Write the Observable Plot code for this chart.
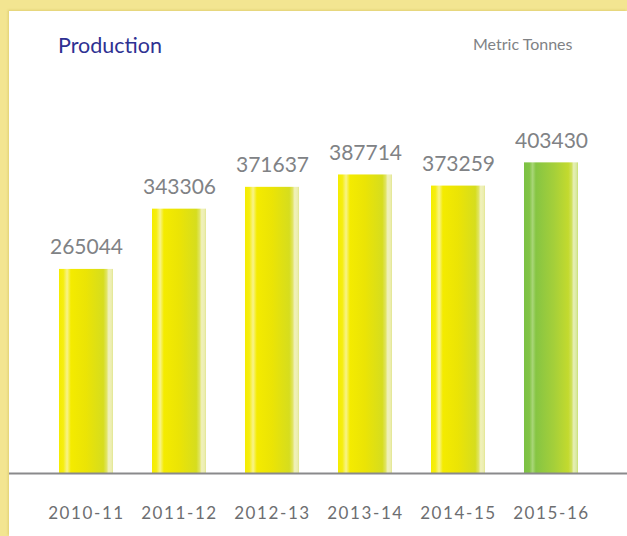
<!DOCTYPE html>
<html>
<head>
<meta charset="utf-8">
<script src="https://cdn.jsdelivr.net/npm/d3@7"></script>
<script src="https://cdn.jsdelivr.net/npm/@observablehq/plot@0.6"></script>
<style>
  body { margin: 0; background: #fff; }
  #frame { position: relative; width: 627px; height: 536px; background: #f3e591; overflow: hidden; }
  #panel { position: absolute; left: 9px; top: 11px; right: 0; bottom: 0; background: #fff;
           box-shadow: -1px -1px 2px rgba(190,170,60,0.35); }
  #title { position: absolute; left: 58px; top: 32px; font-family: Lato, sans-serif; font-size: 21.5px; color: #2e3192; }
  #unit { position: absolute; left: 473px; top: 34px; font-family: Lato, sans-serif; font-size: 16px; color: #808285; }
  #chart { position: absolute; left: 0; top: 0; }
  #chart [aria-label="x-axis tick label"] text { letter-spacing: 1.6px; }
</style>
</head>
<body>
<div id="frame">
  <div id="panel"></div>
  <div id="title">Production</div>
  <div id="unit">Metric Tonnes</div>
  <div id="chart"></div>
</div>
<script>
const years = ["2010-11", "2011-12", "2012-13", "2013-14", "2014-15", "2015-16"];
const production = [265044, 343306, 371637, 387714, 373259, 403430];
const highlightYear = "2015-16";

const data = years.map((year, i) => ({year, value: production[i]}));

const defs = () => {
  const g = document.createElementNS("http://www.w3.org/2000/svg", "defs");
  g.innerHTML = `
    <linearGradient id="gy" x1="0" x2="1" y1="0" y2="0">
      <stop offset="0" stop-color="#f4ec00"/>
      <stop offset="0.08" stop-color="#f6ee10"/>
      <stop offset="0.15" stop-color="#f8f38a"/>
      <stop offset="0.22" stop-color="#f4eb00"/>
      <stop offset="0.5" stop-color="#ebe405"/>
      <stop offset="0.82" stop-color="#d6dd1e"/>
      <stop offset="0.88" stop-color="#e0e460"/>
      <stop offset="0.92" stop-color="#f0f1bc"/>
      <stop offset="0.97" stop-color="#eceeb0"/>
      <stop offset="1" stop-color="#e2e690"/>
    </linearGradient>
    <linearGradient id="gg" x1="0" x2="1" y1="0" y2="0">
      <stop offset="0" stop-color="#7bc143"/>
      <stop offset="0.1" stop-color="#82c445"/>
      <stop offset="0.16" stop-color="#a9d678"/>
      <stop offset="0.22" stop-color="#86c543"/>
      <stop offset="0.55" stop-color="#a4cf3a"/>
      <stop offset="0.82" stop-color="#c3da2e"/>
      <stop offset="0.88" stop-color="#cfe05a"/>
      <stop offset="0.92" stop-color="#e6efb6"/>
      <stop offset="0.97" stop-color="#d9e9a0"/>
      <stop offset="1" stop-color="#c8df70"/>
    </linearGradient>`;
  return g;
};

const chart = Plot.plot({
  width: 627,
  height: 536,
  marginLeft: 9,
  marginRight: 0,
  marginTop: 60,
  marginBottom: 63,
  style: {background: "transparent", fontFamily: "Lato, sans-serif"},
  x: {domain: years, range: [57, 580], paddingInner: 0.424, paddingOuter: 0, label: null},
  y: {domain: [0, 400000], range: [473, 165], axis: null},
  marks: [
    defs,
    Plot.barY(data.filter(d => d.year !== highlightYear), {x: "year", y: "value", fill: "url(#gy)"}),
    Plot.barY(data.filter(d => d.year === highlightYear), {x: "year", y: "value", fill: "url(#gg)"}),
    Plot.text(data, {x: "year", y: "value", text: d => String(d.value), lineAnchor: "bottom",
      dy: -15, fontSize: 21, fill: "#808285"}),
    Plot.ruleY([0], {stroke: "#8a8a8c", strokeWidth: 2}),
    Plot.axisX({tickSize: 0, tickPadding: 33, fontSize: 17, color: "#6d6e71", label: null})
  ]
});
document.getElementById("chart").appendChild(chart);
</script>
</body>
</html>
